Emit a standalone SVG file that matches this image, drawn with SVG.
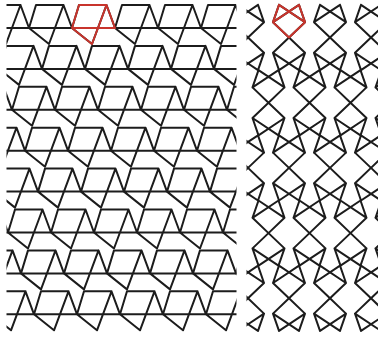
<svg xmlns="http://www.w3.org/2000/svg" xmlns:xlink="http://www.w3.org/1999/xlink" width="378" height="338" viewBox="0 0 378 338">
<style>
.k{fill:none;stroke:#1c1c1c;stroke-width:2;stroke-linejoin:round;stroke-linecap:round}
.r{fill:none;stroke:#c8342c;stroke-width:2;stroke-linejoin:round;stroke-linecap:round}
</style>
<defs>
<clipPath id="cl"><rect x="6.5" y="0" width="230" height="338"/></clipPath>
<clipPath id="cr"><rect x="246.5" y="0" width="131.5" height="338"/></clipPath>
<path id="L" d="M0,0 L7,-23 L34.5,-23 L43,0 Z M0,0 L20,16 L34.5,-23"/>
<path id="R" d="M-10,-32.6 L-16,-15.3 L0,0 L16,-15.3 L10,-32.6 M-10,-32.6 L16,-15.3 M10,-32.6 L-16,-15.3"/>
<g id="row">
<use xlink:href="#L" x="-57" y="28"/><use xlink:href="#L" x="-14" y="28"/><use xlink:href="#L" x="29" y="28"/><use xlink:href="#L" x="72" y="28"/><use xlink:href="#L" x="115" y="28"/><use xlink:href="#L" x="158" y="28"/><use xlink:href="#L" x="201" y="28"/><use xlink:href="#L" x="244" y="28"/>
</g>
<g id="pair">
<use xlink:href="#R"/><use xlink:href="#R" transform="rotate(180)"/>
</g>
<g id="prow">
<use xlink:href="#pair" x="227.5"/><use xlink:href="#pair" x="268.5"/><use xlink:href="#pair" x="309.5"/><use xlink:href="#pair" x="350.5"/><use xlink:href="#pair" x="391.5"/>
</g>
</defs>
<rect width="378" height="338" fill="#ffffff"/>
<g id="left-tiling" class="k" clip-path="url(#cl)">
<use xlink:href="#row"/>
<use xlink:href="#row" transform="translate(13,40.9)"/>
<use xlink:href="#row" transform="translate(26,81.8)"/>
<use xlink:href="#row" transform="translate(39,122.7)"/>
<use xlink:href="#row" transform="translate(9,163.6)"/>
<use xlink:href="#row" transform="translate(22,204.5)"/>
<use xlink:href="#row" transform="translate(35,245.4)"/>
<use xlink:href="#row" transform="translate(5,286.3)"/>
</g>
<g id="left-tile" class="r"><use xlink:href="#L" x="72" y="28"/></g>
<g id="right-tiling" class="k" clip-path="url(#cr)">
<use xlink:href="#prow" transform="translate(20.5,37.5)"/>
<use xlink:href="#prow" transform="translate(0,102.7)"/>
<use xlink:href="#prow" transform="translate(20.5,167.9)"/>
<use xlink:href="#prow" transform="translate(0,233.1)"/>
<use xlink:href="#prow" transform="translate(20.5,298.3)"/>
</g>
<g id="right-tile" class="r"><use xlink:href="#R" transform="translate(289,37.5)"/></g>
</svg>
